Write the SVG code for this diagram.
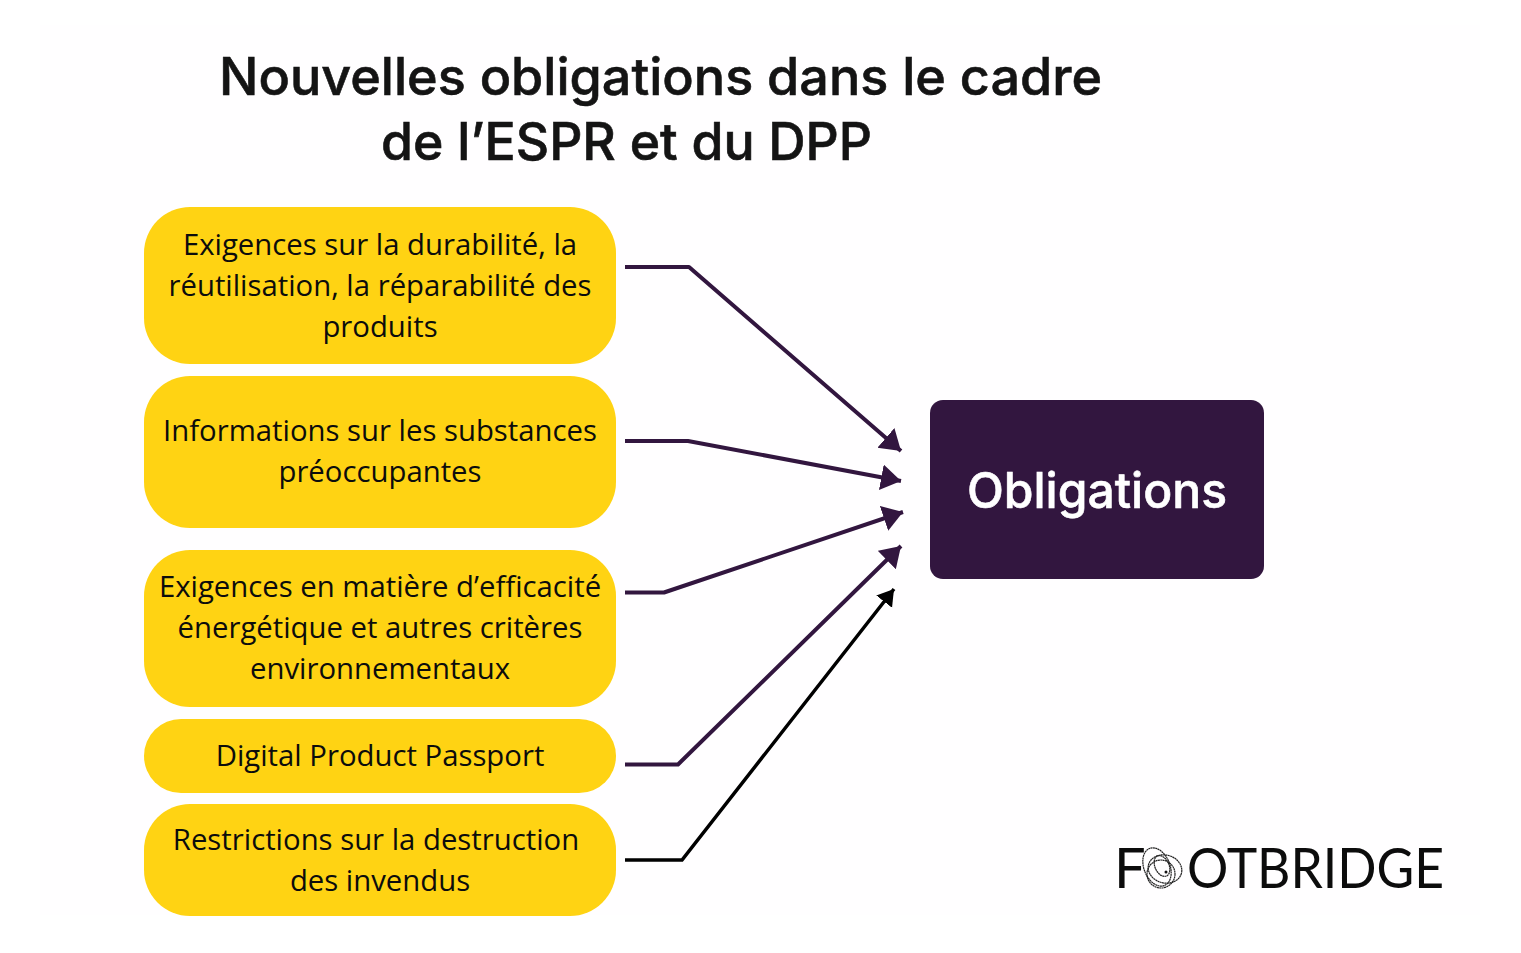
<svg xmlns="http://www.w3.org/2000/svg" width="1521" height="953" viewBox="0 0 1521 953">
<defs>
<style>
.n{fill:#ffd313}
.t{font-family:"Open Sans",sans-serif;font-size:29.3px;fill:#0c0c0c;text-anchor:middle}
.h{font-family:Inter,"Noto Sans",sans-serif;font-size:52px;font-weight:500;fill:#141414;stroke:#141414;stroke-width:.6px}
.c{fill:none;stroke:#32163f;stroke-width:4;stroke-linejoin:round}
.l{font-family:Lato,sans-serif;font-weight:400;font-size:56px;fill:#0c0c0c}
.r{fill:none;stroke:#222;stroke-width:1.200;stroke-dasharray:2 .4}
</style>
<marker id="a" markerUnits="userSpaceOnUse" markerWidth="30" markerHeight="30" refX="20" refY="13" orient="auto"><path d="M0 0L20 13L0 26Z" fill="#32163f"/></marker>
<marker id="b" markerUnits="userSpaceOnUse" markerWidth="24" markerHeight="24" refX="16" refY="10" orient="auto"><path d="M0 0L16 10L0 20Z" fill="#000"/></marker>
</defs>
<rect width="1521" height="953" fill="#fff"/>
<rect x="40" y="25" width="1440" height="890" fill="#fffeff"/>
<g id="title">
<text class="h" x="219" y="95" textLength="883" lengthAdjust="spacingAndGlyphs">Nouvelles obligations dans le cadre</text>
<text class="h" x="381" y="160" textLength="491" lengthAdjust="spacingAndGlyphs">de l’ESPR et du DPP</text>
</g>
<g id="connectors">
<path class="c" marker-end="url(#a)" d="M625 267H689L901 451"/>
<path class="c" marker-end="url(#a)" d="M625 441H688L901 481"/>
<path class="c" marker-end="url(#a)" d="M625 592.500H664L903 512"/>
<path class="c" marker-end="url(#a)" d="M625 764.500H678L901 546"/>
<path fill="none" stroke="#000" stroke-width="3.500" marker-end="url(#b)" d="M625 860H682L894 589"/>
</g>
<g id="node1"><rect class="n" x="144" y="207" width="472" height="157" rx="46"/>
<text class="t" x="380" y="255">Exigences sur la durabilité, la</text><text class="t" x="380" y="296">réutilisation, la réparabilité des</text><text class="t" x="380" y="337">produits</text></g>
<g id="node2"><rect class="n" x="144" y="376" width="472" height="152" rx="46"/>
<text class="t" x="380" y="441">Informations sur les substances</text><text class="t" x="380" y="482">préoccupantes</text></g>
<g id="node3"><rect class="n" x="144" y="550" width="472" height="157" rx="46"/>
<text class="t" x="380" y="597">Exigences en matière d’efficacité</text><text class="t" x="380" y="638">énergétique et autres critères</text><text class="t" x="380" y="679">environnementaux</text></g>
<g id="node4"><rect class="n" x="144" y="719" width="472" height="74" rx="37"/>
<text class="t" x="380" y="766">Digital Product Passport</text></g>
<g id="node5"><rect class="n" x="144" y="804" width="472" height="112" rx="46"/>
<text class="t" x="376" y="850">Restrictions sur la destruction</text><text class="t" x="380" y="891">des invendus</text></g>
<g id="obligations"><rect x="930" y="400" width="334" height="179" rx="13" fill="#32163f"/>
<text x="1097" y="508" text-anchor="middle" font-family="Inter,'Noto Sans',sans-serif" font-size="49" font-weight="500" fill="#fff" stroke="#fff" stroke-width=".6" textLength="260" lengthAdjust="spacingAndGlyphs">Obligations</text></g>
<g id="logo">
<text class="l" x="1114" y="888" font-size="54">F</text>
<ellipse class="r" cx="1157" cy="867" rx="13" ry="20" transform="rotate(-22 1157 867)"/>
<ellipse class="r" cx="1165" cy="869" rx="17" ry="14" transform="rotate(15 1165 869)"/>
<ellipse class="r" cx="1161" cy="874" rx="14" ry="14"/>
<ellipse class="r" cx="1162" cy="866" rx="7" ry="11" transform="rotate(-25 1162 866)"/>
<circle cx="1166" cy="872" r="1.500" fill="#111"/>
<text class="l" x="1187" y="888" textLength="257" lengthAdjust="spacingAndGlyphs">OTBRIDGE</text>
</g>
</svg>
